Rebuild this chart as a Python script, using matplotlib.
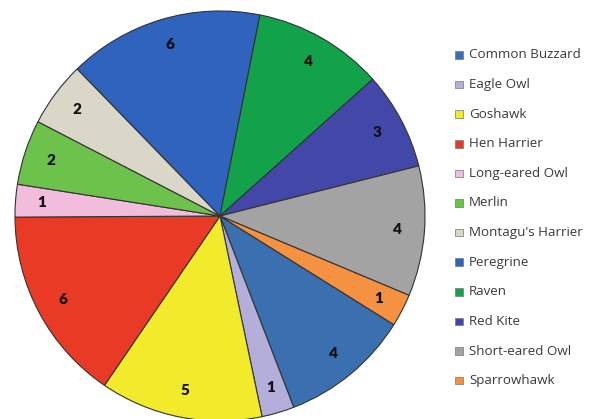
import matplotlib
matplotlib.use("Agg")
import matplotlib.pyplot as plt
from matplotlib.patches import Rectangle
import numpy as np

species = ["Common Buzzard", "Eagle Owl", "Goshawk", "Hen Harrier",
           "Long-eared Owl", "Merlin", "Montagu's Harrier", "Peregrine",
           "Raven", "Red Kite", "Short-eared Owl", "Sparrowhawk"]
counts = [4, 1, 5, 6, 1, 2, 2, 6, 4, 3, 4, 1]
colors = ["#3A6FB0", "#B4AEDA", "#F2EB2C", "#E93A26", "#F2BCDD", "#6CC24A",
          "#DAD6C8", "#2F63BE", "#12A24A", "#4247A8", "#A3A3A3", "#F59241"]

W, H = 603, 419
fig = plt.figure(figsize=(W / 100, H / 100), dpi=100)
fig.patch.set_facecolor("white")

# pie area: centre (220, 216) px, radius 205 px
cx, cy, r = 220, 216, 205
ax = fig.add_axes([(cx - r) / W, (H - cy - r) / H, 2 * r / W, 2 * r / H])
wedges, _ = ax.pie(counts, colors=colors, startangle=90 - 122, counterclock=False,
                   radius=1.0,
                   wedgeprops=dict(edgecolor="#333333", linewidth=0.8))
ax.set_xlim(-1, 1)
ax.set_ylim(-1, 1)
ax.set_aspect("equal")
ax.axis("off")

# value labels at mid-angle of each wedge
for w, v in zip(wedges, counts):
    mid = np.deg2rad((w.theta1 + w.theta2) / 2)
    d = 0.87
    ax.text(d * np.cos(mid), d * np.sin(mid), str(v), ha="center", va="center",
            fontsize=11, fontweight="heavy", family="Lato", color="#111111")

# legend
x_box, x_txt, y0, dy, s = 455, 469, 55, 29.6, 7.5
for i, (name, c) in enumerate(zip(species, colors)):
    yc = y0 + i * dy
    fig.patches.append(Rectangle(((x_box) / W, (H - yc - s / 2) / H), s / W, s / H,
                                 transform=fig.transFigure, facecolor=c,
                                 edgecolor="#777777", linewidth=0.5))
    fig.text(x_txt / W, (H - yc) / H, name, ha="left", va="center",
             fontsize=9.6, family="Open Sans", color="#3a3a3a")

fig.savefig("out.png", dpi=100)
